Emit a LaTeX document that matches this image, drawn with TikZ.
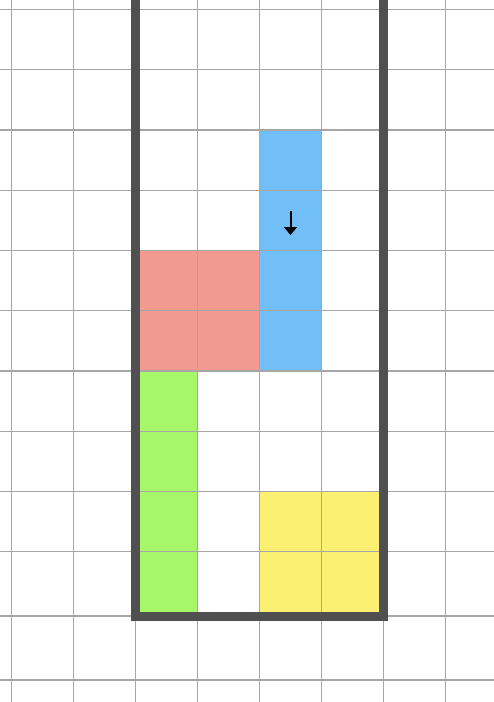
\documentclass[tikz,border=0pt]{standalone}
\usepackage{tikz}
\usetikzlibrary{arrows.meta}
\definecolor{gridgray}{HTML}{A6A6A6}
\definecolor{wallgray}{HTML}{505050}
\definecolor{pieceblue}{HTML}{72BEF7}
\definecolor{piecered}{HTML}{F09A90}
\definecolor{piecegreen}{HTML}{A6F76A}
\definecolor{pieceyellow}{HTML}{FBF072}
\tikzset{
  gridline/.style={draw=gridgray, line width=1.3pt},
  wall/.style={draw=wallgray, line width=9pt, line join=miter},
}
\begin{document}
\begin{tikzpicture}[x=1pt,y=-1pt]
\useasboundingbox (0,0) rectangle (494,702);
\coordinate (TL) at (135.5,0);
\coordinate (BL) at (135.5,616);
\coordinate (BR) at (383.5,616);
\coordinate (TR) at (383.5,0);
% pieces
\fill[pieceblue] (259.5,130) rectangle (321.5,371);
\fill[piecered] (135.5,250.5) rectangle (259.5,371);
\fill[piecegreen] (135.5,371) rectangle (197.5,612);
\fill[pieceyellow] (259.5,491.5) rectangle (383.5,612);
% grid
\foreach \x in {11.5,73.5,135.5,197.5,259.5,321.5,383.5,445.5}
  \draw[gridline] (\x,0) -- (\x,702);
\foreach \y in {9.5,69.75,130,190.25,250.5,310.75,371,431.25,491.5,551.75,616,680}
  \draw[gridline] (0,\y) -- (494,\y);
% well
\draw[wall] (TL) -- (BL) -- (BR) -- (TR);
% falling piece
\coordinate (A) at (290.5,211);
\coordinate (B) at (290.5,235);
\draw[line width=2pt, -{Triangle[width=13pt,length=8pt]}] (A) -- (B);
\end{tikzpicture}
\end{document}
